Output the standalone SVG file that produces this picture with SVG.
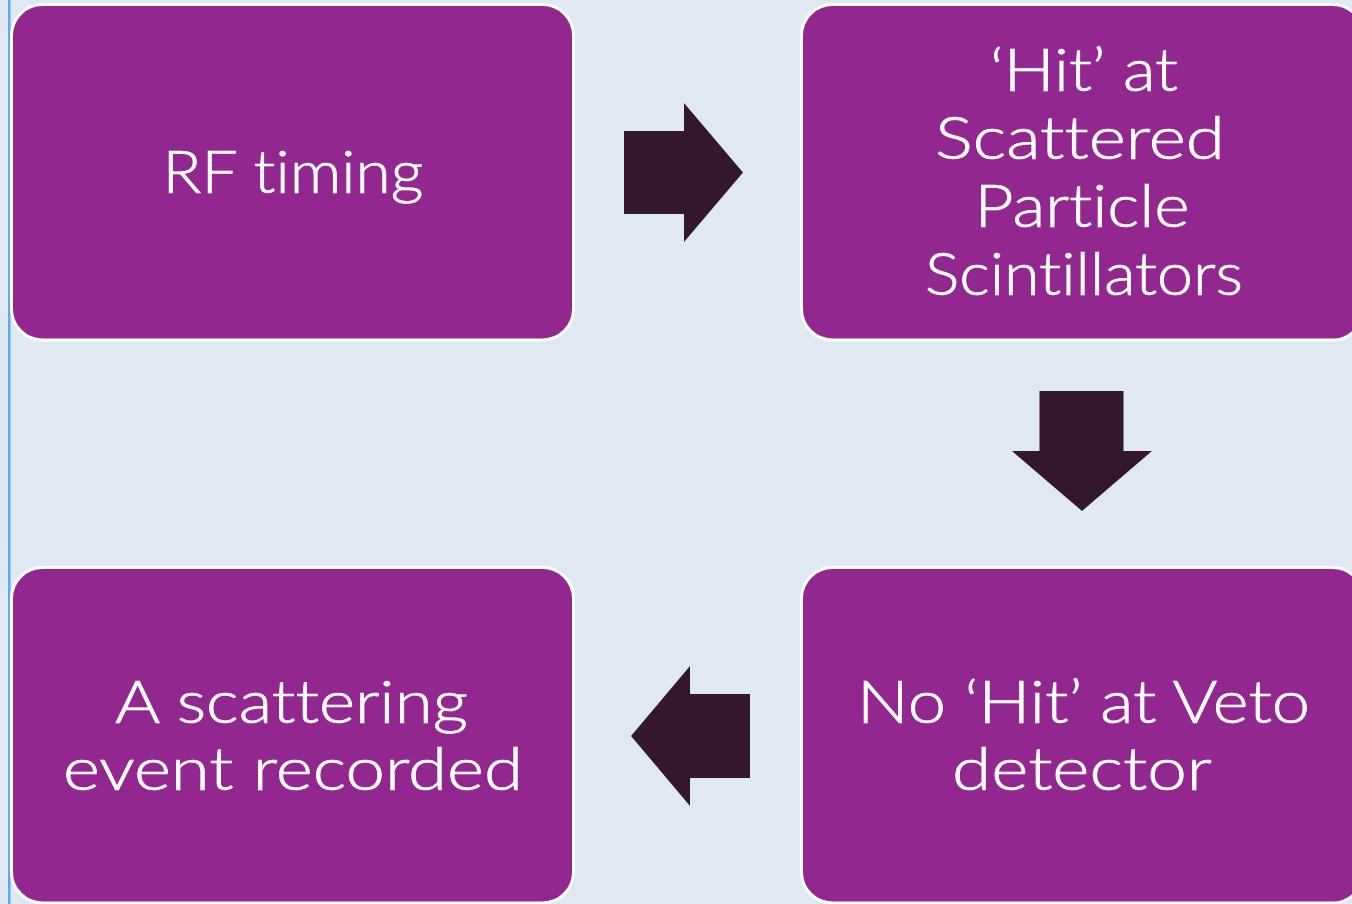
<svg xmlns="http://www.w3.org/2000/svg" width="1352" height="904" viewBox="0 0 1352 904">
  <style>
    .box { fill: #92278F; stroke: #FFFFFF; stroke-width: 3; }
    .label { fill: #FFFFFF; stroke: #FFFFFF; stroke-width: 0.7; font-family: "Lato", "Open Sans", "DejaVu Sans", sans-serif; font-size: 60px; font-weight: 300; text-anchor: middle; font-variant-ligatures: none; font-feature-settings: "liga" 0, "clig" 0, "dlig" 0; }
    .arrow { fill: #32172F; }
  </style>

  <!-- page background and left rule -->
  <rect x="0" y="0" width="1352" height="904" fill="#E0E9F1"/>
  <rect x="8" y="0" width="2.5" height="904" fill="#5FAAE8"/>

  <!-- process steps -->
  <g id="node-rf-timing">
    <rect class="box" x="11.5" y="4.5" width="562" height="335.5" rx="31" ry="31"/>
    <text class="label" x="293" y="193" textLength="261" lengthAdjust="spacingAndGlyphs">RF timing</text>
  </g>

  <g id="node-hit-scintillators">
    <rect class="box" x="801.5" y="4.5" width="562" height="335.5" rx="31" ry="31"/>
    <text class="label" x="1084" y="91" textLength="188" lengthAdjust="spacingAndGlyphs">‘Hit’ at</text>
    <text class="label" x="1080" y="159" textLength="290" lengthAdjust="spacingAndGlyphs">Scattered</text>
    <text class="label" x="1082" y="227" textLength="215" lengthAdjust="spacingAndGlyphs">Particle</text>
    <text class="label" x="1084" y="295" textLength="318" lengthAdjust="spacingAndGlyphs">Scintillators</text>
  </g>

  <g id="node-no-hit-veto">
    <rect class="box" x="801.5" y="567.5" width="562" height="335.5" rx="31" ry="31"/>
    <text class="label" x="1083.5" y="723" textLength="453" lengthAdjust="spacingAndGlyphs">No ‘Hit’ at Veto</text>
    <text class="label" x="1082" y="790" textLength="260" lengthAdjust="spacingAndGlyphs">detector</text>
  </g>

  <g id="node-event-recorded">
    <rect class="box" x="11.5" y="567.5" width="562" height="335.5" rx="31" ry="31"/>
    <text class="label" x="291.5" y="723" textLength="353" lengthAdjust="spacingAndGlyphs">A scattering</text>
    <text class="label" x="293" y="790" textLength="460" lengthAdjust="spacingAndGlyphs">event recorded</text>
  </g>

  <!-- block arrows between steps -->
  <g id="connectors">
    <polygon class="arrow" points="624,131 684,131 684,103 743,172.5 684,242 684,214 624,214"/>
    <polygon class="arrow" points="1039.5,391 1123.5,391 1123.5,451 1152,451 1082,511 1012,451 1039.5,451"/>
    <polygon class="arrow" points="750,694 690,694 690,666 631,736 690,806 690,778 750,778"/>
  </g>
</svg>
